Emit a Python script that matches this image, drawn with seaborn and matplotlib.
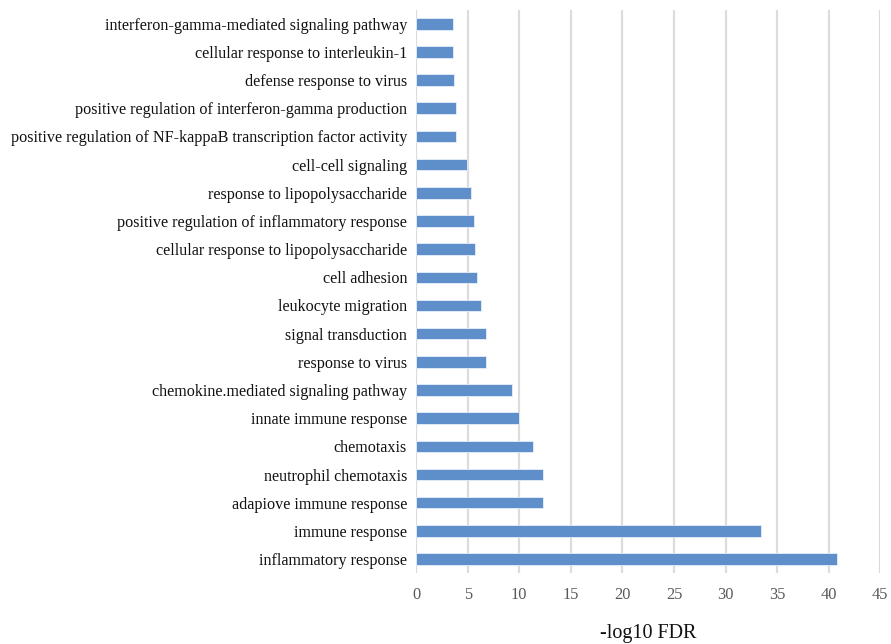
import matplotlib
matplotlib.use("Agg")
import matplotlib.pyplot as plt
import seaborn as sns
import pandas as pd

terms = [
    "interferon-gamma-mediated signaling pathway",
    "cellular response to interleukin-1",
    "defense response to virus",
    "positive regulation of interferon-gamma production",
    "positive regulation of NF-kappaB transcription factor activity",
    "cell-cell signaling",
    "response to lipopolysaccharide",
    "positive regulation of inflammatory response",
    "cellular response to lipopolysaccharide",
    "cell adhesion",
    "leukocyte migration",
    "signal transduction",
    "response to virus",
    "chemokine.mediated signaling pathway",
    "innate immune response",
    "chemotaxis",
    "neutrophil chemotaxis",
    "adapiove immune response",
    "immune response",
    "inflammatory response",
]
neg_log10_fdr = [3.53, 3.53, 3.69, 3.88, 3.88, 4.89, 5.37, 5.57, 5.72, 5.92,
                 6.25, 6.73, 6.73, 9.28, 9.93, 11.3, 12.3, 12.3, 33.4, 40.8]
x_ticks = [0, 5, 10, 15, 20, 25, 30, 35, 40, 45]

df = pd.DataFrame({"term": terms, "value": neg_log10_fdr})

sns.set_theme(style="white")
plt.rcParams["font.family"] = ["Liberation Serif", "DejaVu Serif"]

fig = plt.figure(figsize=(8.91, 6.44), dpi=100)
ax = fig.add_axes([0.467, 0.110, 0.521, 0.875])

sns.barplot(data=df, x="value", y="term", orient="h", order=terms,
            color="#5E8FCB", saturation=1, width=0.41,
            edgecolor="#E8EEF8", linewidth=0.6, ax=ax, zorder=3)

ax.set_xlim(0, 45)
ax.set_ylim(len(terms) - 0.5, -0.5)
ax.set_xticks(x_ticks)
ax.xaxis.grid(True, color="#DCDCDC", linewidth=1.6, zorder=0)
ax.set_axisbelow(True)
for s in ax.spines.values():
    s.set_visible(False)

ax.tick_params(axis="x", length=0, pad=10, labelsize=11.8, labelcolor="#595959")
ax.tick_params(axis="y", length=0, pad=6.5, labelsize=11.6, labelcolor="#111111")
ax.set_ylabel("")
ax.set_xlabel("-log10 FDR", fontsize=14.5, color="#111111", labelpad=15)

fig.savefig("out.png", dpi=100, facecolor="white")
